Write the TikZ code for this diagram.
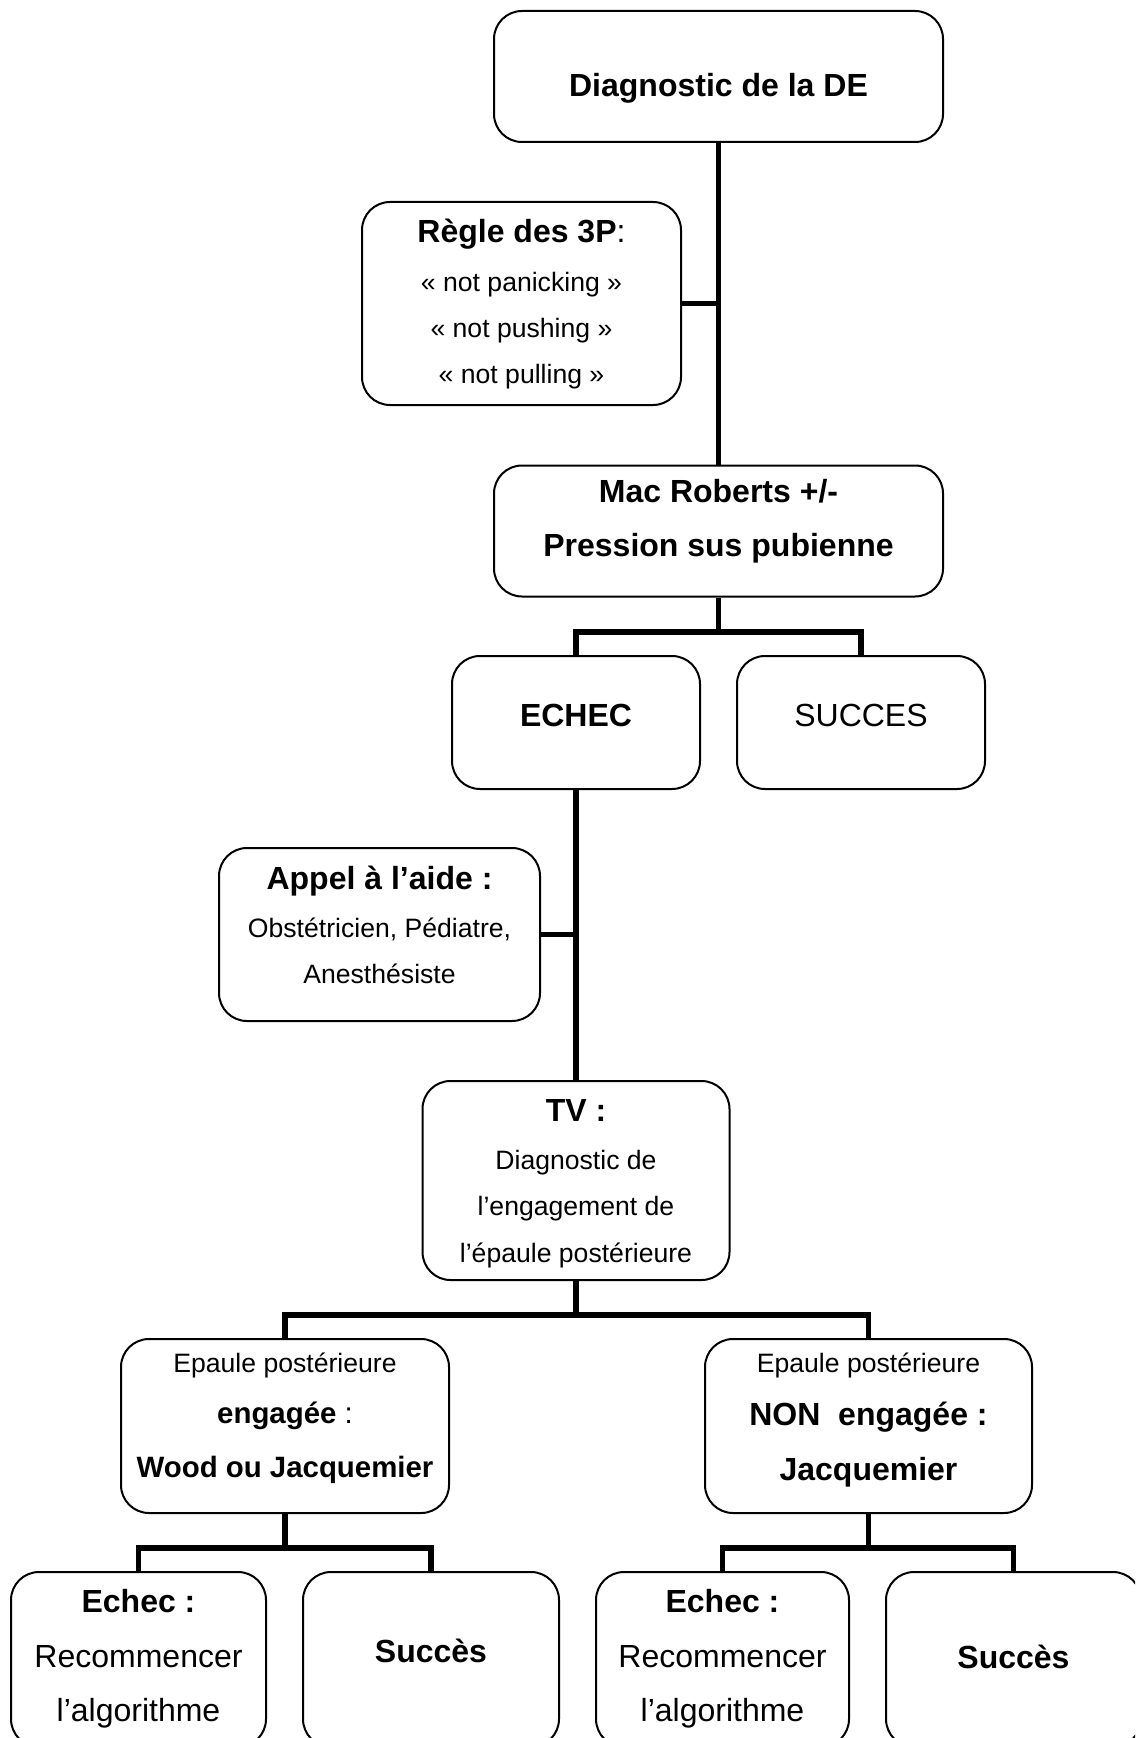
\documentclass[tikz,border=0pt]{standalone}
\usepackage{fontspec}
\setmainfont{Liberation Sans}
\begin{document}
\begin{tikzpicture}[x=0.5pt,y=-0.5pt,
  box/.style={draw, line width=1pt, rounded corners=14pt, inner sep=0pt},
  bx/.style n args={2}{box, minimum width=#1*0.5pt, minimum height=#2*0.5pt},
  conn/.style={line width=2.75pt, line join=miter},
  txt/.style={anchor=base, inner sep=0pt},
  big/.style={txt, font=\fontsize{16}{19}\selectfont},
  mid/.style={txt, font=\fontsize{14.7}{17}\selectfont},
  sml/.style={txt, font=\fontsize{13.3}{16}\selectfont}]
\useasboundingbox (0,0) rectangle (1135,1738);
\clip (0,0) rectangle (1135,1738);
\fill[white] (0,0) rectangle (1135,1738);

% boxes
\node[bx={449}{131}] (top) at (718.5,76.5) {};
\node[bx={319}{203}] (regle) at (521.5,303.5) {};
\node[bx={449}{131}] (mac) at (718.5,531) {};
\node[bx={248}{133}] (echec) at (576,722.5) {};
\node[bx={248}{133}] (succes) at (861,722.5) {};
\node[bx={321}{173}] (appel) at (379.5,934.5) {};
\node[bx={307}{199}] (tv) at (576,1180.5) {};
\node[bx={328}{174}] (epl) at (285,1426) {};
\node[bx={327}{174}] (epr) at (868.5,1426) {};
\node[bx={255}{175}] (b1) at (138.5,1659.5) {};
\node[bx={256}{175}] (b2) at (431,1659.5) {};
\node[bx={253}{175}] (b3) at (722.5,1659.5) {};
\node[bx={255}{175}] (b4) at (1013.5,1659.5) {};

% junctions
\coordinate (j1) at (718.5,632);
\coordinate (j2) at (576,1315);
\coordinate (j3) at (285,1548);
\coordinate (j4) at (868.5,1548);

% connectors
\draw[conn] (top.south) -- (mac.north);
\draw[conn] (regle.east) -- (regle.east -| top.south);
\draw[conn] (mac.south) -- (j1);
\draw[conn] (echec.north) |- (j1) -| (succes.north);
\draw[conn] (echec.south) -- (tv.north);
\draw[conn] (appel.east) -- (appel.east -| echec.south);
\draw[conn] (tv.south) -- (j2);
\draw[conn] (epl.north) |- (j2) -| (epr.north);
\draw[conn] (epl.south) -- (j3);
\draw[conn] (b1.north) |- (j3) -| (b2.north);
\draw[conn] (epr.south) -- (j4);
\draw[conn] (b3.north) |- (j4) -| (b4.north);

% texts
\node[big] (t-top) at (718.5,97) {\bfseries Diagnostic de la DE};

\node[big] (t-r1) at (521.5,243) {\bfseries Règle des 3P\mdseries:};
\node[sml] (t-r2) at (521.5,292) {« not panicking »};
\node[sml] (t-r3) at (521.5,337) {« not pushing »};
\node[sml] (t-r4) at (521.5,383) {« not pulling »};

\node[big] (t-m1) at (718.5,502) {\bfseries Mac Roberts +/-};
\node[big] (t-m2) at (718.5,556) {\bfseries Pression sus pubienne};

\node[big] (t-ec) at (576,726) {\bfseries ECHEC};
\node[big] (t-su) at (861,726) {SUCCES};

\node[big] (t-a1) at (379.5,889) {\bfseries Appel à l’aide :};
\node[sml] (t-a2) at (379.5,937) {Obstétricien, Pédiatre,};
\node[sml] (t-a3) at (379.5,983) {Anesthésiste};

\node[big] (t-tv1) at (576,1121) {\bfseries TV :};
\node[sml] (t-tv2) at (576,1169) {Diagnostic de};
\node[sml] (t-tv3) at (576,1215) {l’engagement de};
\node[sml] (t-tv4) at (576,1262) {l’épaule postérieure};

\node[sml] (t-el1) at (285,1372) {Epaule postérieure};
\node[mid] (t-el2) at (285,1423) {\bfseries engagée\mdseries\ :};
\node[mid] (t-el3) at (285,1477) {\bfseries Wood ou Jacquemier};

\node[sml] (t-er1) at (868.5,1372) {Epaule postérieure};
\node[big] (t-er2) at (868.5,1425) {\bfseries NON\ \ engagée :};
\node[big] (t-er3) at (868.5,1480) {\bfseries Jacquemier};

\node[big] (t-b11) at (138.5,1612) {\bfseries Echec :};
\node[big] (t-b12) at (138.5,1667) {Recommencer};
\node[big] (t-b13) at (138.5,1721) {l’algorithme};
\node[big] (t-b2) at (431,1662) {\bfseries Succès};

\node[big] (t-b31) at (722.5,1612) {\bfseries Echec :};
\node[big] (t-b32) at (722.5,1667) {Recommencer};
\node[big] (t-b33) at (722.5,1721) {l’algorithme};
\node[big] (t-b4) at (1013.5,1668) {\bfseries Succès};
\end{tikzpicture}
\end{document}
